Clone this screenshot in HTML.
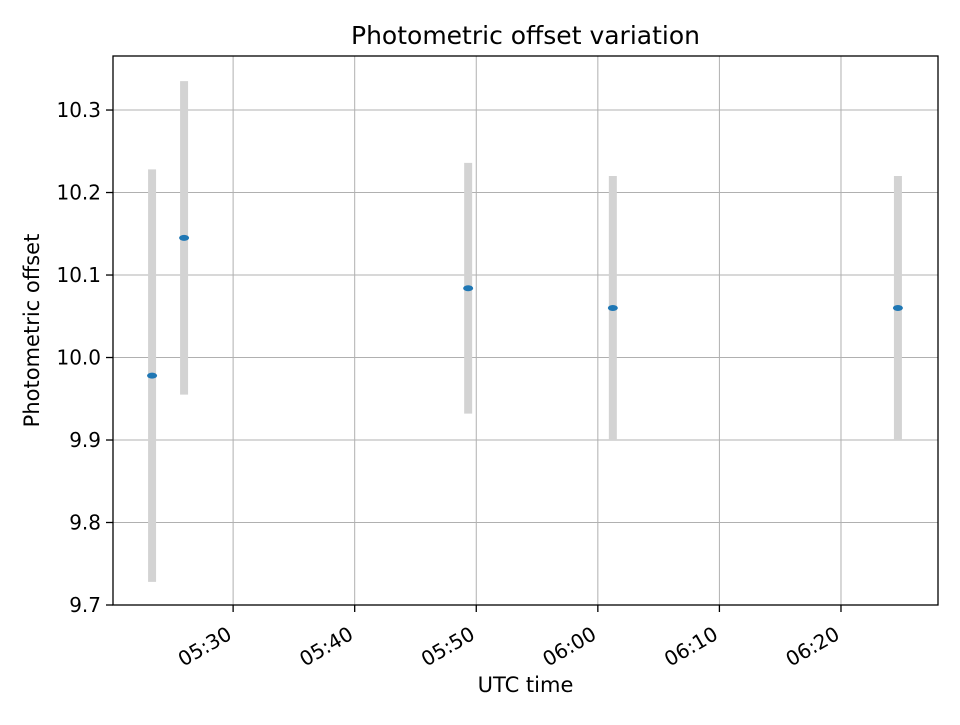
<!DOCTYPE html>
<html><head><meta charset="utf-8"><style>
body{margin:0;background:#fff;}
svg text{font-family:"DejaVu Sans","Liberation Sans",sans-serif;fill:#000;}
</style></head><body>
<svg id="chart" width="960" height="720" xmlns="http://www.w3.org/2000/svg">
<rect width="960" height="720" fill="#fff"/>
<g id="grid"></g><g id="marks"></g><g id="axes"></g>
</svg>
<script>
const times = ["05:23:20","05:25:58","05:49:20","06:01:14","06:24:41"];
const offsets = [9.978, 10.145, 10.084, 10.06, 10.06];
const errors = [0.25, 0.19, 0.152, 0.16, 0.16];
const yTicks = [9.7, 9.8, 9.9, 10.0, 10.1, 10.2, 10.3];
const xTicks = ["05:30","05:40","05:50","06:00","06:10","06:20"];

const L=113,R=938,T=56,B=605;
const xMin=5*60+20.12, xMax=6*60+27.98, yMin=9.7, yMax=10.3655;
function toMin(s){const p=s.split(':').map(Number);return p[0]*60+p[1]+(p[2]||0)/60;}
function xs(m){return L+(m-xMin)/(xMax-xMin)*(R-L);}
function ys(v){return B-(v-yMin)/(yMax-yMin)*(B-T);}
const NS="http://www.w3.org/2000/svg";
function mk(tag,attrs,parent){const e=document.createElementNS(NS,tag);for(const k in attrs)e.setAttribute(k,attrs[k]);parent.appendChild(e);return e;}
const grid=document.getElementById('grid'),marks=document.getElementById('marks'),axes=document.getElementById('axes');

yTicks.forEach(v=>{const y=ys(v);
 const g=mk('line',{x1:L,x2:R,y1:y,y2:y,stroke:'#b0b0b0','stroke-width':1},grid);
 
 
 mk('line',{x1:L-7,x2:L,y1:y,y2:y,stroke:'#000','stroke-width':1.3},axes);
 const t=mk('text',{x:L-12,y:y+7,'text-anchor':'end','font-size':20},axes);t.textContent=v.toFixed(1);
 
 
});
xTicks.forEach(s=>{const x=xs(toMin(s));
 const g=mk('line',{x1:x,x2:x,y1:T,y2:B,stroke:'#b0b0b0','stroke-width':1},grid);
 
 
 mk('line',{x1:x,x2:x,y1:B,y2:B+7,stroke:'#000','stroke-width':1.3},axes);
 const ty=B+33;
 const t=mk('text',{x:x,y:ty,'text-anchor':'end','font-size':20,transform:`rotate(-30 ${x} ${ty})`},axes);t.textContent=s;
 
 
});
times.forEach((s,i)=>{const x=xs(toMin(s));
 const eb=mk('line',{x1:x,x2:x,y1:ys(offsets[i]-errors[i]),y2:ys(offsets[i]+errors[i]),stroke:'#d3d3d3','stroke-width':8},marks);
 
 
});
times.forEach((s,i)=>{const x=xs(toMin(s));
 const p=mk('ellipse',{cx:x,cy:ys(offsets[i]),rx:5,ry:3,fill:'#1f77b4'},marks);
 
 
});
const fr=mk('rect',{x:L,y:T,width:R-L,height:B-T,fill:'none',stroke:'#000','stroke-width':1.3},axes);


let t=mk('text',{x:(L+R)/2,y:44,'text-anchor':'middle','font-size':25},axes);t.textContent='Photometric offset variation';


t=mk('text',{x:(L+R)/2,y:692,'text-anchor':'middle','font-size':21},axes);t.textContent='UTC time';


t=mk('text',{x:39,y:(T+B)/2,'text-anchor':'middle','font-size':21,transform:`rotate(-90 39 ${(T+B)/2})`},axes);t.textContent='Photometric offset';


</script>
</body></html>
